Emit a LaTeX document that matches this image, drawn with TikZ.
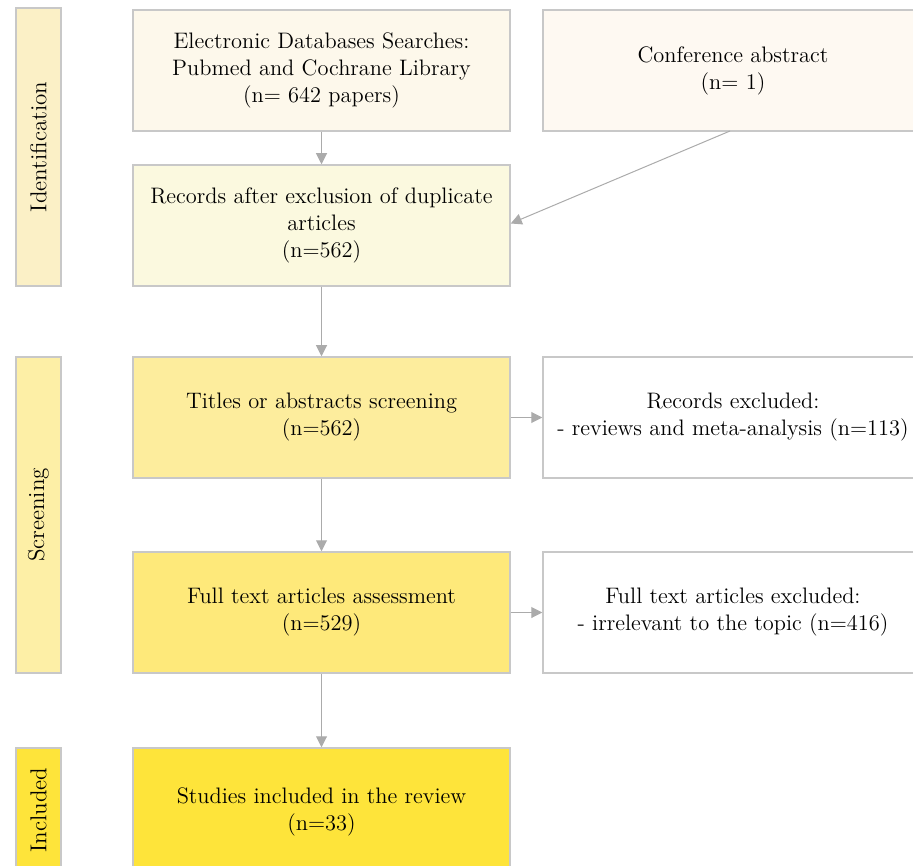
\documentclass[tikz,border=0pt]{standalone}
\usetikzlibrary{arrows.meta, positioning}
\definecolor{cedge}{HTML}{C8C8C8}
\definecolor{carrow}{HTML}{ABABAB}
\definecolor{cident}{HTML}{FBF0C6}
\definecolor{cscreen}{HTML}{FDEFA6}
\definecolor{cincl}{HTML}{FEE43A}
\definecolor{csearch}{HTML}{FDF8EB}
\definecolor{cconf}{HTML}{FEF9F2}
\definecolor{crecords}{HTML}{FBF9DF}
\definecolor{ctitles}{HTML}{FDED9D}
\definecolor{cfull}{HTML}{FEE97A}
\tikzset{
  every picture/.style={font=\fontsize{11.2}{13.5}\selectfont, line width=0.75pt},
  box/.style={draw=cedge, fill=#1, align=center, inner sep=4pt, minimum width=188.5pt, minimum height=60.5pt},
  box/.default=white,
  sidebox/.style={draw=cedge, fill=#1, minimum width=22.5pt, inner sep=0pt},
  sidelabel/.style={rotate=90, font=\fontsize{11.5}{13.5}\selectfont},
  arrow/.style={-{Triangle[length=5.5pt, width=5.5pt]}, draw=carrow, line width=0.5pt},
}
\begin{document}
\begin{tikzpicture}[x=0.5pt, y=-0.5pt]
  \useasboundingbox (0,0) rectangle (913,865);
  % phase labels
  \node[sidebox=cident, minimum height=139pt] (ident) at (38.5,147) {};
  \node[sidelabel] at (ident.center) {Identification};
  \node[sidebox=cscreen, minimum height=158pt] (screen) at (38.5,515) {};
  \node[sidelabel] at (screen.center) {Screening};
  \node[sidebox=cincl, minimum height=62pt] (incl) at (38.5,810) {};
  \node[sidelabel] at (incl.center) {Included};
  % main flow
  \node[box=csearch] (search) at (321.5,70.5) {Electronic Databases Searches:\\Pubmed and Cochrane Library\\(n= 642 papers)};
  \node[box=cconf, minimum width=190pt] (conf) at (733,70.5) {Conference abstract\\(n= 1)};
  \node[box=crecords] (records) at (321.5,225.5) {Records after exclusion of duplicate\\articles\\(n=562)};
  \node[box=ctitles] (titles) at (321.5,417.5) {Titles or abstracts screening\\(n=562)};
  \node[box, minimum width=190pt] (recexcl) at (733,417.5) {Records excluded:\\- reviews and meta-analysis (n=113)};
  \node[box=cfull] (full) at (321.5,612.5) {Full text articles assessment\\(n=529)};
  \node[box, minimum width=190pt] (fullexcl) at (733,612.5) {Full text articles excluded:\\- irrelevant to the topic (n=416)};
  \node[box=cincl, minimum height=64pt] (studies) at (321.5,812) {Studies included in the review\\(n=33)};
  % connectors
  \coordinate (confout) at (730,131);
  \draw[arrow] (search) -- (records);
  \draw[arrow] (confout) -- ([yshift=1pt]records.east);
  \draw[arrow] (records) -- (titles);
  \draw[arrow] (titles) -- (recexcl);
  \draw[arrow] (titles) -- (full);
  \draw[arrow] (full) -- (fullexcl);
  \draw[arrow] (full) -- (studies);
\end{tikzpicture}
\end{document}
